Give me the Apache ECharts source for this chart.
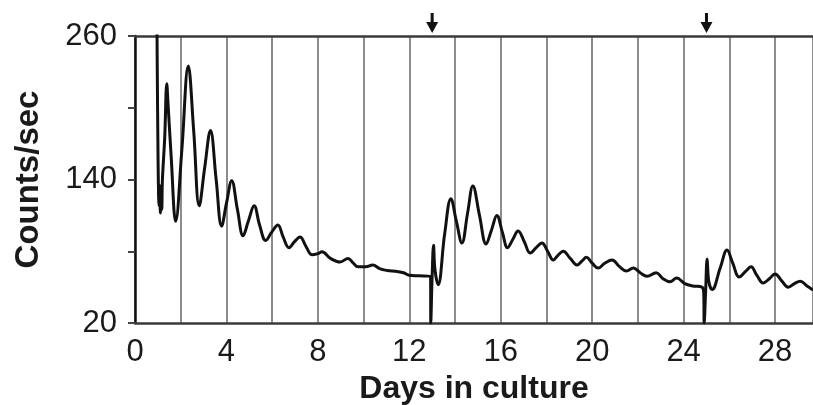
<!DOCTYPE html>
<html>
<head>
<meta charset="utf-8">
<script src="https://cdn.jsdelivr.net/npm/echarts@6/dist/echarts.min.js"></script>
<style>
  html, body { margin: 0; padding: 0; background: #fff; }
  #chart { width: 813px; height: 405px; }
</style>
</head>
<body>
<div id="chart"></div>
<script>
// Bioluminescence trace: days in culture vs counts/sec
const days = [
  0.96, 0.98, 1.00, 1.02, 1.05, 1.08, 1.11, 1.14, 1.17, 1.20, 1.30, 1.39, 1.44, 1.58, 1.78,
  2.05, 2.33, 2.57, 2.81, 3.05, 3.30, 3.55, 3.79, 4.00, 4.23, 4.48, 4.73, 4.97, 5.21,
  5.45, 5.72, 5.98, 6.25, 6.48, 6.74, 6.98, 7.22, 7.48, 7.75, 8.00, 8.18, 8.55, 8.97,
  9.32, 9.55, 9.76, 10.10, 10.40, 10.70, 11.00, 11.47, 11.75, 12.00, 12.40, 12.93, 12.94,
  13.00, 13.06, 13.12, 13.26, 13.55, 13.82, 14.06, 14.30, 14.55, 14.78, 15.07, 15.36,
  15.60, 15.83, 16.07, 16.30, 16.53, 16.76, 17.03, 17.29, 17.55, 17.80, 18.05, 18.30,
  18.52, 18.73, 19.04, 19.34, 19.56, 19.75, 20.00, 20.26, 20.55, 20.87, 21.20, 21.50,
  21.80, 22.10, 22.40, 22.80, 23.10, 23.40, 23.70, 24.05, 24.40, 24.80, 24.88, 24.90,
  24.96, 25.03, 25.10, 25.25, 25.60, 25.90, 26.15, 26.43, 26.70, 26.95, 27.20, 27.48,
  27.75, 28.00, 28.30, 28.58, 28.85, 29.10, 29.40, 29.66
];
const counts = [
  270, 218, 175, 140, 118, 135, 112, 130, 115, 140, 175, 220, 205, 160, 105,
  165, 235, 180, 118, 150, 181, 140, 101, 120, 139, 115, 93, 106, 118,
  102, 89, 96, 102, 92, 83, 88, 92, 84, 77, 78, 79.5, 74, 71,
  74, 70, 67, 67, 68.5, 65.5, 64, 63, 62, 60, 59.5, 59, 20,
  60, 85, 65, 52, 95, 124, 105, 87, 112, 134.5, 110, 86,
  98, 110, 96, 83, 90, 97, 88, 78.5, 83, 87, 80, 72.7,
  77, 80, 74, 68.5, 72, 75, 70, 66, 70, 72.7, 67, 63.5,
  66, 62, 59, 62, 57, 54.5, 57.6, 53, 51, 50, 45, 20,
  45, 73.5, 55, 48, 66, 81, 70, 58.5, 63, 67, 60, 53.5,
  57, 61, 55, 50, 53, 55, 51, 47.5
];
// Medium changes marked above the plot
const treatmentDays = [13, 25];
const xLabels = [0, 4, 8, 12, 16, 20, 24, 28];
const yLabels = [20, 140, 260];

const font = '"Liberation Sans", Arial, Helvetica, sans-serif';
const series = days.map((d, i) => [d, counts[i]]);

const chart = echarts.init(document.getElementById('chart'), null, { renderer: 'canvas' });
chart.setOption({
  animation: false,
  backgroundColor: '#ffffff',
  grid: { left: 135, right: 0, top: 36, bottom: 82, containLabel: false, outerBoundsMode: 'none' },
  xAxis: [
    {
      type: 'value', min: 0, max: 29.66, interval: 2,
      name: 'Days in culture', nameLocation: 'middle', nameGap: 50,
      nameTextStyle: { fontFamily: font, fontSize: 32, fontWeight: 'bold', color: '#1a1a1a' },
      axisLine: { show: true, onZero: false, lineStyle: { color: '#3a3a3a', width: 2.5 } },
      axisTick: { show: false },
      axisLabel: {
        fontFamily: font, fontSize: 31, color: '#1a1a1a', margin: 14, showMaxLabel: false,
        formatter: v => (xLabels.includes(v) ? String(v) : '')
      },
      splitLine: { show: true, lineStyle: { color: '#666', width: 1.5 } }
    },
    {
      type: 'value', position: 'top', min: 0, max: 29.66,
      axisLine: { show: true, onZero: false, lineStyle: { color: '#3a3a3a', width: 2.5 } },
      axisTick: { show: false }, axisLabel: { show: false }, splitLine: { show: false }
    }
  ],
  yAxis: {
    type: 'value', min: 20, max: 260, interval: 60,
    name: 'Counts/sec', nameLocation: 'middle', nameGap: 90,
    nameTextStyle: { fontFamily: font, fontSize: 33, fontWeight: 'bold', color: '#1a1a1a' },
    axisLine: { show: true, lineStyle: { color: '#111', width: 2.5 } },
    axisTick: { show: true, length: 7, lineStyle: { color: '#444', width: 2 } },
    axisLabel: {
      fontFamily: font, fontSize: 31, color: '#1a1a1a', margin: 18,
      formatter: v => (yLabels.includes(v) ? String(v) : '')
    },
    splitLine: { show: false }
  },
  series: [
    {
      type: 'line', data: series, xAxisIndex: 0,
      showSymbol: false, smooth: 0.4, clip: true,
      lineStyle: { color: '#111', width: 3 },
      markPoint: {
        symbol: 'path://M4.5,0 L7.5,0 L7.5,9 L12,9 L6,20 L0,9 L4.5,9 Z',
        symbolSize: [12, 20], symbolOffset: [0, -13],
        itemStyle: { color: '#111' }, label: { show: false },
        data: treatmentDays.map(d => ({ coord: [d, 260] }))
      }
    }
  ]
});
</script>
</body>
</html>
